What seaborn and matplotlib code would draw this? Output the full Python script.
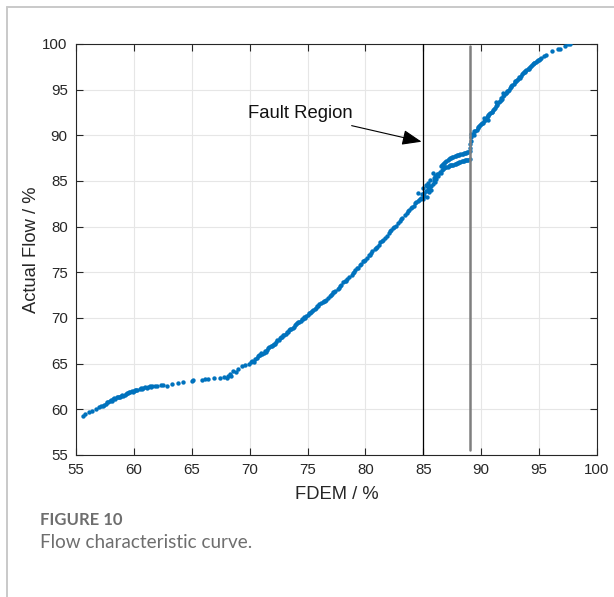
import numpy as np
import pandas as pd
import matplotlib
matplotlib.use("Agg")
import matplotlib.pyplot as plt
from matplotlib.lines import Line2D
import seaborn as sns

# ---- measured points: FDEM reading vs. actual flow (both in %) ----
# low-flow section
fdem_low = [55.6, 55.8, 56.1, 56.4, 56.7, 57.0, 57.2, 57.4, 57.6, 57.8, 57.9, 58.0,
            58.1, 58.3, 58.4, 58.5, 58.6, 58.8, 58.9, 59.0, 59.1, 59.3, 59.4, 59.5,
            59.7, 59.8, 60.0, 60.1, 60.3, 60.5, 60.6, 60.8, 61.0, 61.2, 61.4, 61.6,
            61.8, 62.0, 62.3,
            57.3, 57.7, 58.2, 58.7, 59.2, 59.6, 59.9, 60.2, 60.7, 61.1, 61.5]
flow_low = [59.3, 59.5, 59.7, 59.8, 60.0, 60.2, 60.4, 60.5, 60.6, 60.8, 60.9, 61.0,
            60.9, 61.2, 61.1, 61.3, 61.4, 61.4, 61.5, 61.6, 61.5, 61.7, 61.8, 61.8,
            61.9, 62.0, 62.0, 62.1, 62.1, 62.2, 62.3, 62.3, 62.4, 62.4, 62.5, 62.5,
            62.6, 62.6, 62.7,
            60.4, 60.8, 61.1, 61.3, 61.6, 61.9, 61.9, 62.1, 62.2, 62.3, 62.4]

# flat section
fdem_flat = [62.5, 62.9, 63.3, 63.8, 64.2, 65.0, 65.1, 65.9, 66.1, 66.4, 66.9, 67.4,
             67.8, 68.0, 68.1, 68.3, 68.4, 68.6, 68.8, 69.0, 69.3, 69.6, 69.9, 70.1]
flow_flat = [62.65, 62.6, 62.75, 62.9, 63.0, 63.1, 63.2, 63.25, 63.3, 63.35, 63.4, 63.45,
             63.5, 63.4, 63.6, 63.9, 63.7, 64.2, 64.1, 64.4, 64.7, 64.8, 65.0, 65.2]

# rising section
fdem_mid = [70.2, 70.5, 70.7, 70.9, 71.1, 71.3, 71.5, 71.7, 71.9, 72.1, 72.3, 72.5,
            72.7, 72.9, 73.1, 73.3, 73.5, 73.7, 73.9, 74.1, 74.3, 74.5, 74.7, 74.9,
            75.1, 75.3, 75.5, 75.7, 75.9, 76.2, 76.4, 76.6, 76.9, 77.1, 77.3, 77.6,
            77.9, 78.1, 78.3, 78.6, 78.9, 79.1, 79.3, 79.6, 79.9, 80.1, 80.4, 80.6,
            80.9, 81.2, 81.4, 81.7, 82.0, 82.2, 82.5, 82.8, 83.1, 83.4, 83.7, 83.9,
            84.2, 84.4, 84.6, 84.8,
            70.6, 71.0, 71.4, 71.8, 72.2, 72.6, 73.0, 73.4, 73.8, 74.2, 74.6, 75.0,
            75.4, 75.8, 76.3, 76.8, 77.2, 77.7, 78.2, 78.8, 79.4, 79.8, 80.3, 80.8,
            81.3, 81.9, 82.4, 83.0, 83.6, 84.0, 84.5,
            70.35, 70.8, 71.2, 71.6, 72.0, 72.4, 72.8, 73.2, 73.6, 74.0, 74.4, 74.8,
            75.2, 75.6, 76.0, 76.5, 77.0, 77.4, 77.8, 78.4, 79.0, 79.5, 80.0, 80.5,
            81.0, 81.5, 82.1, 82.6, 83.2, 83.8, 84.3, 84.7]
flow_mid = [65.3, 65.5, 65.8, 65.9, 66.1, 66.4, 66.5, 66.8, 66.9, 67.2, 67.4, 67.6,
            67.9, 68.1, 68.3, 68.5, 68.8, 68.9, 69.2, 69.4, 69.6, 69.9, 70.1, 70.2,
            70.5, 70.7, 70.9, 71.1, 71.3, 71.6, 71.9, 72.0, 72.4, 72.6, 72.8, 73.2,
            73.6, 73.9, 74.1, 74.5, 74.9, 75.2, 75.5, 75.9, 76.2, 76.6, 76.9, 77.3,
            77.7, 78.0, 78.4, 78.8, 79.3, 79.6, 80.0, 80.4, 80.8, 81.3, 81.7, 82.0,
            82.3, 82.7, 82.9, 83.1,
            65.6, 66.2, 66.3, 66.9, 67.2, 67.8, 68.1, 68.7, 69.0, 69.6, 69.9, 70.3,
            70.8, 71.3, 71.8, 72.2, 72.8, 73.3, 74.0, 74.7, 75.5, 76.2, 76.9, 77.5,
            78.3, 79.0, 79.8, 80.6, 81.5, 82.1, 82.8,
            65.2, 65.9, 66.2, 66.7, 67.0, 67.6, 67.9, 68.5, 68.8, 69.3, 69.7, 70.0,
            70.5, 71.0, 71.5, 71.9, 72.5, 73.0, 73.5, 74.3, 75.0, 75.8, 76.3, 77.1,
            77.8, 78.5, 79.5, 80.1, 81.0, 81.8, 82.6, 83.0]

# fault region: scattered cluster and the two branches
fdem_fault = [84.9, 85.0, 85.0, 85.1, 85.2, 85.2, 85.3, 85.4, 85.4, 85.5, 85.6, 85.6,
              85.7, 85.8, 85.9, 86.0, 86.0, 86.1, 86.2, 86.3, 86.4, 86.5, 85.8, 84.5,
              85.1, 85.3, 85.5, 85.7, 85.9, 86.1, 86.3,
              86.6, 86.8, 87.0, 87.2, 87.4, 87.6, 87.8, 88.0, 88.2, 88.4, 88.6, 88.8, 89.0,
              86.7, 86.9, 87.1, 87.3, 87.5, 87.7, 87.9, 88.1, 88.3, 88.5, 88.7, 88.9,
              86.5, 86.7, 86.9, 87.1, 87.3, 87.5, 87.7, 87.9, 88.1, 88.3, 88.5, 88.7, 88.9, 89.0,
              86.6, 86.8, 87.0, 87.2, 87.4, 87.6, 87.8, 88.0, 88.2, 88.4, 88.6, 88.8,
              89.05, 89.05, 89.1, 89.1, 89.15]
flow_fault = [83.6, 83.0, 84.2, 83.4, 83.9, 84.6, 83.3, 84.1, 84.8, 83.8, 84.4, 85.1,
              84.0, 84.7, 85.3, 84.9, 85.6, 85.2, 85.8, 85.5, 86.0, 85.9, 85.9, 83.7,
              83.7, 84.4, 84.2, 84.5, 85.0, 85.5, 85.8,
              86.2, 86.4, 86.5, 86.6, 86.7, 86.8, 86.9, 87.0, 87.1, 87.2, 87.25, 87.3, 87.4,
              86.35, 86.5, 86.55, 86.7, 86.75, 86.85, 86.95, 87.05, 87.15, 87.2, 87.3, 87.35,
              86.6, 86.9, 87.1, 87.3, 87.5, 87.6, 87.7, 87.8, 87.9, 88.0, 88.05, 88.1, 88.2, 88.3,
              86.8, 87.0, 87.2, 87.4, 87.5, 87.65, 87.75, 87.85, 87.95, 88.0, 88.1, 88.15,
              88.6, 89.0, 89.4, 89.8, 90.1]

# high-flow section
fdem_high = [89.3, 89.5, 89.7, 89.9, 90.1, 90.3, 90.5, 90.7, 90.9, 91.1, 91.3, 91.5,
             91.7, 91.9, 92.1, 92.3, 92.5, 92.7, 92.9, 93.1, 93.3, 93.5, 93.7, 93.9,
             94.1, 94.3, 94.5, 94.7, 94.9, 95.1,
             89.4, 89.6, 89.8, 90.0, 90.2, 90.4, 90.6, 90.8, 91.0, 91.2, 91.4, 91.6,
             91.8, 92.0, 92.2, 92.4, 92.6, 92.8, 93.0, 93.2, 93.4, 93.6, 93.8, 94.0,
             94.2, 94.4, 94.6, 94.8,
             89.35, 89.75, 90.15, 90.55, 90.95, 91.35, 91.75, 92.15, 92.55, 92.95,
             93.35, 93.75, 94.15, 94.55, 94.95, 95.2,
             90.2, 91.3, 91.9, 90.6,
             95.4, 95.6, 96.1, 96.6, 96.8, 97.2, 97.5, 97.7]
flow_high = [90.2, 90.5, 90.8, 91.1, 91.4, 91.7, 92.0, 92.3, 92.6, 92.9, 93.2, 93.6,
             93.9, 94.3, 94.6, 94.9, 95.2, 95.5, 95.8, 96.1, 96.4, 96.7, 96.9, 97.1,
             97.4, 97.6, 97.8, 98.0, 98.2, 98.4,
             90.5, 90.6, 91.0, 91.2, 91.6, 91.8, 92.2, 92.4, 92.8, 93.0, 93.4, 93.8,
             94.0, 94.4, 94.8, 95.0, 95.4, 95.6, 96.0, 96.2, 96.5, 96.8, 97.0, 97.3,
             97.5, 97.7, 97.9, 98.1,
             90.0, 90.9, 91.3, 92.1, 92.5, 93.3, 94.1, 94.6, 95.3, 95.9,
             96.3, 96.9, 97.3, 97.9, 98.3, 98.5,
             91.9, 93.6, 94.6, 91.7,
             98.7, 98.8, 99.2, 99.4, 99.5, 99.8, 99.95, 100.0]

# fault region boundaries (FDEM %)
fault_start = 85.0
fault_end = 89.0

x_ticks = [55, 60, 65, 70, 75, 80, 85, 90, 95, 100]
y_ticks = [55, 60, 65, 70, 75, 80, 85, 90, 95, 100]

df = pd.DataFrame({
    "fdem": fdem_low + fdem_flat + fdem_mid + fdem_fault + fdem_high,
    "flow": flow_low + flow_flat + flow_mid + flow_fault + flow_high,
})

sns.set_style("ticks")
plt.rcParams["font.family"] = ["Liberation Sans", "DejaVu Sans"]

fig = plt.figure(figsize=(6.14, 5.97), dpi=100)
ax = fig.add_axes([0.1238, 0.2379, 0.8485, 0.6884])

# page frame lines
fig.add_artist(Line2D([7 / 614, 1.0], [1 - 7 / 597, 1 - 7 / 597],
                      transform=fig.transFigure, color="#c9c9c9", lw=1.4))
fig.add_artist(Line2D([7 / 614, 7 / 614], [0.0, 1 - 7 / 597],
                      transform=fig.transFigure, color="#c9c9c9", lw=1.4))

ax.grid(True, color="#e6e6e6", lw=0.8)
ax.set_axisbelow(True)

sns.scatterplot(data=df, x="fdem", y="flow", ax=ax, s=10, color="#0072BD",
                linewidth=0, zorder=3)

ax.axvline(fault_start, color="black", lw=0.9, zorder=4)
ax.plot([fault_end, fault_end], [55.5, 99.8], color="#7f7f7f", lw=1.8, zorder=4)

ax.annotate("Fault Region", xy=(84.85, 89.3), xytext=(78.9, 92.35),
            fontsize=13.3, color="#111111", ha="right", va="center",
            arrowprops=dict(arrowstyle="-|>,head_length=0.9,head_width=0.35",
                            color="black", lw=0.8, shrinkA=0, shrinkB=0))

ax.set_xlim(55, 100)
ax.set_ylim(55, 100)
ax.set_xticks(x_ticks)
ax.set_yticks(y_ticks)
ax.tick_params(direction="in", length=5, width=0.8, top=True, right=True,
               labelsize=10.8, colors="#262626", pad=6)
for side in ax.spines.values():
    side.set_visible(True)
    side.set_color("#262626")
    side.set_linewidth(0.8)

ax.set_xlabel("FDEM / %", fontsize=13.2, color="#262626", labelpad=6)
ax.set_ylabel("Actual Flow / %", fontsize=13.2, color="#262626", labelpad=2)

fig.text(40 / 614, 1 - 520 / 597, "FIGURE 10", fontsize=12, fontweight="bold",
         family=["Lato", "DejaVu Sans"], color="#6e6e6e", va="center", ha="left")
fig.text(40 / 614, 1 - 543 / 597, "Flow characteristic curve.", fontsize=13.6,
         family=["Lato", "DejaVu Sans"], color="#6e6e6e", va="center", ha="left")

fig.savefig("out.png", dpi=100)
